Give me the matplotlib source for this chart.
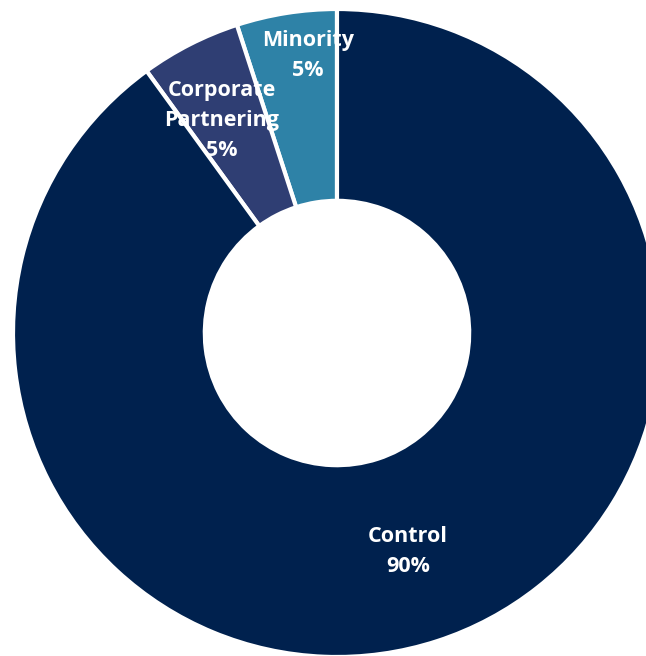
import matplotlib.pyplot as plt
import numpy as np

labels = ["Minority", "Corporate\nPartnering", "Control"]
shares = [5, 5, 90]
colors = ["#2E82A7", "#2F3E73", "#00214E"]
# label placement: fraction of outer radius, and angle nudge (deg)
label_r = [0.86, 0.747, 0.71]
label_dang = [-3.0, 1.5, 0.0]

fig = plt.figure(figsize=(6.46, 6.56), dpi=100)
ax = fig.add_axes([0, 0, 1, 1])

wedges, _ = ax.pie(
    shares,
    colors=colors,
    startangle=90,
    counterclock=True,
    radius=1.0,
    wedgeprops=dict(width=0.592, edgecolor="white", linewidth=3),
)

for w, lab, val, r, da in zip(wedges, labels, shares, label_r, label_dang):
    ang = np.deg2rad((w.theta1 + w.theta2) / 2 + da)
    ax.text(r * np.cos(ang), r * np.sin(ang), f"{lab}\n{val}%",
            ha="center", va="center", color="white", fontsize=15.5,
            fontweight="bold", family="Open Sans", linespacing=1.55)

# center at pixel (337, 333), radius 324 px
ax.set_xlim(-337 / 324, (646 - 337) / 324)
ax.set_ylim(-(656 - 333) / 324, 333 / 324)
ax.set_aspect("auto")
ax.axis("off")

plt.savefig("out.png", dpi=100)
